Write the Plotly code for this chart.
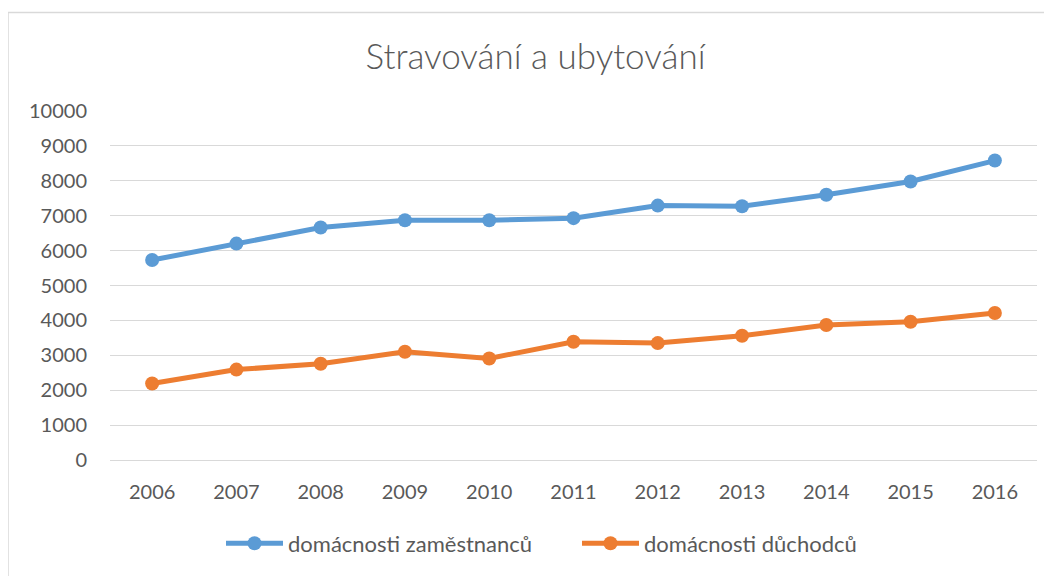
import plotly.graph_objects as go

years = ["2006", "2007", "2008", "2009", "2010", "2011", "2012", "2013", "2014", "2015", "2016"]
zamestnanci = [5730, 6200, 6660, 6870, 6870, 6930, 7290, 7270, 7600, 7980, 8580]
duchodci = [2190, 2590, 2760, 3100, 2910, 3390, 3350, 3560, 3870, 3960, 4210]
series_names = ["domácnosti zaměstnanců", "domácnosti důchodců"]
title_text = "Stravování a ubytování"

BLUE = "#5B9BD5"
ORANGE = "#ED7D31"
GRAY_TEXT = "#595959"
GRID = "#D9D9D9"

fig = go.Figure()
for name, vals, col in [(series_names[0], zamestnanci, BLUE), (series_names[1], duchodci, ORANGE)]:
    fig.add_trace(go.Scatter(
        x=years, y=vals, name=name, mode="lines+markers",
        line=dict(color=col, width=5),
        marker=dict(color=col, size=14),
    ))

# page is offset by 8px body margin
OFF = 8
W, H = 1052 - OFF, 576 - OFF
L, T = 110 - OFF, 111 - OFF
R = W - (1037 - OFF)
B = H - (462 - OFF)
pw = W - L - R
ph = H - T - B

def px_x(page_x):
    return (page_x - OFF - L) / pw

def px_y(page_y):
    return (H - B - (page_y - OFF)) / ph

fig.update_layout(
    width=W, height=H,
    margin=dict(l=L, r=R, t=T, b=B),
    paper_bgcolor="white", plot_bgcolor="white",
    font=dict(family="Lato", color=GRAY_TEXT, size=20),
    title=dict(text=title_text, x=(535.5 - OFF) / W, xanchor="center",
               y=1 - (57 - OFF) / H, yanchor="middle",
               xref="container", yref="container",
               font=dict(family="Lato", size=35, color=GRAY_TEXT, weight=300)),
    showlegend=True,
    legend=dict(orientation="h", x=px_x(221), xanchor="left", y=px_y(546), yanchor="middle",
                font=dict(size=22, color=GRAY_TEXT), itemwidth=57, traceorder="normal",
                entrywidth=284, entrywidthmode="pixels",
                itemclick=False),
    xaxis=dict(
        type="category", range=[-0.5, 10.5], showgrid=False, zeroline=False,
        showline=True, linecolor=GRID, linewidth=1,
        ticks="", tickfont=dict(size=20, color=GRAY_TEXT), ticklabelstandoff=14,
        fixedrange=True,
    ),
    yaxis=dict(
        range=[0, 10000], dtick=1000, tickformat="d", showgrid=True, gridcolor=GRID, gridwidth=1,
        zeroline=False, showline=False, ticks="",
        tickfont=dict(size=20, color=GRAY_TEXT), ticklabelstandoff=22,
        fixedrange=True,
    ),
)

# outer chart border
fig.add_shape(type="rect", xref="paper", yref="paper",
              x0=px_x(8), x1=px_x(1070),
              y0=px_y(600), y1=px_y(12),
              line=dict(color=GRID, width=1.5), fillcolor="rgba(0,0,0,0)", layer="below")

fig.write_html("out.html")
